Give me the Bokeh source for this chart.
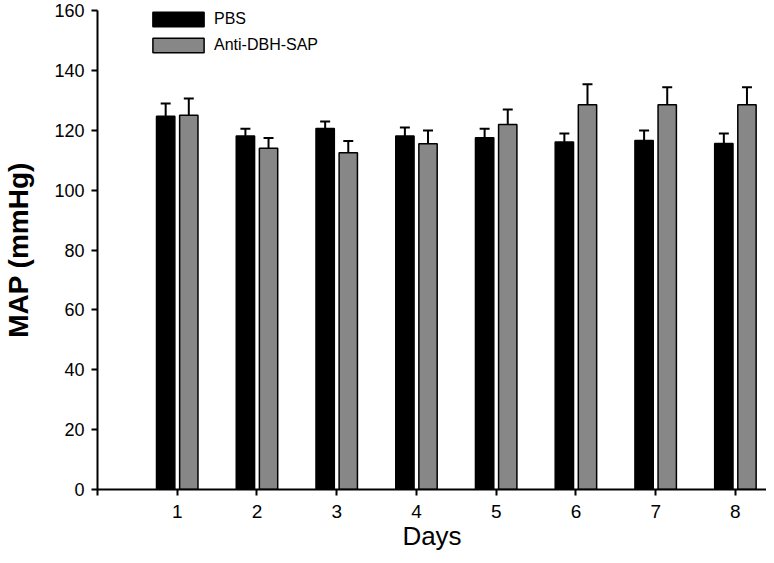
from bokeh.plotting import figure
from bokeh.models import FixedTicker, Legend, LegendItem, ColumnDataSource
from bokeh.embed import file_html
from bokeh.resources import INLINE

days = [1, 2, 3, 4, 5, 6, 7, 8]
pbs_mean = [124.7, 118.1, 120.6, 118.1, 117.5, 116.1, 116.6, 115.6]
pbs_err = [4.2, 2.4, 2.3, 2.8, 3.0, 2.8, 3.3, 3.3]
sap_mean = [125.0, 114.0, 112.5, 115.5, 121.9, 128.5, 128.5, 128.5]
sap_err = [5.6, 3.4, 3.9, 4.4, 5.0, 6.9, 5.9, 5.9]
y_ticks = [0, 20, 40, 60, 80, 100, 120, 140, 160]
x_ticks = [0, 1, 2, 3, 4, 5, 6, 7, 8]

FONT = "Liberation Sans"
GRAY = "#878787"
off = 0.145
bw = 0.23
cap = 0.0625

p = figure(width=766, height=555, output_backend="svg", toolbar_location=None,
           x_range=(0, 8.39), y_range=(0, 160),
           min_border_left=97, min_border_right=0, min_border_top=10, min_border_bottom=66)
p.outline_line_color = None
p.xgrid.visible = False
p.ygrid.visible = False

def make_src(offset, mean, err):
    xs = [d + offset for d in days]
    ups = [m + e for m, e in zip(mean, err)]
    return ColumnDataSource(dict(
        x=xs, top=mean, up=ups,
        cx0=[x - cap for x in xs], cx1=[x + cap for x in xs]))

s1 = make_src(-off, pbs_mean, pbs_err)
s2 = make_src(off, sap_mean, sap_err)

for s in (s1, s2):
    p.segment(x0="x", y0="top", x1="x", y1="up", source=s, line_color="black", line_width=2)
    p.segment(x0="cx0", y0="up", x1="cx1", y1="up", source=s, line_color="black", line_width=2)

r1 = p.vbar(x="x", top="top", width=bw, bottom=0, source=s1,
            fill_color="black", line_color="black", line_width=1.5)
r2 = p.vbar(x="x", top="top", width=bw, bottom=0, source=s2,
            fill_color=GRAY, line_color="black", line_width=1.5)

legend = Legend(items=[LegendItem(label="PBS", renderers=[r1]),
                       LegendItem(label="Anti-DBH-SAP", renderers=[r2])],
                location=(49, 435), orientation="vertical",
                glyph_width=64, glyph_height=18, label_height=18,
                spacing=8, padding=0, margin=0, label_standoff=4,
                label_text_font=FONT, label_text_font_size="16px",
                label_text_color="black",
                background_fill_alpha=0, border_line_alpha=0)
p.add_layout(legend)

for ax in (p.xaxis, p.yaxis):
    ax.axis_line_width = 2
    ax.major_tick_line_width = 2
    ax.major_tick_in = 0
    ax.major_tick_out = 6
    ax.minor_tick_line_color = None
    ax.major_label_text_font = FONT
    ax.major_label_text_color = "black"
    ax.axis_label_text_font = FONT
    ax.axis_label_text_color = "black"

p.yaxis.ticker = FixedTicker(ticks=y_ticks)
p.xaxis.ticker = FixedTicker(ticks=x_ticks)
p.xaxis.major_label_overrides = {0: ""}

p.yaxis.major_label_text_font_size = "18px"
p.xaxis.major_label_text_font_size = "19px"
p.yaxis.major_label_standoff = 7
p.xaxis.major_label_standoff = 9

p.yaxis.axis_label = "MAP (mmHg)"
p.yaxis.axis_label_text_font_size = "28px"
p.yaxis.axis_label_text_font_style = "bold"
p.yaxis.axis_label_standoff = 17

p.xaxis.axis_label = "Days"
p.xaxis.axis_label_text_font_size = "26px"
p.xaxis.axis_label_text_font_style = "normal"
p.xaxis.axis_label_standoff = 0

open("out.html", "w").write(file_html(p, INLINE))
